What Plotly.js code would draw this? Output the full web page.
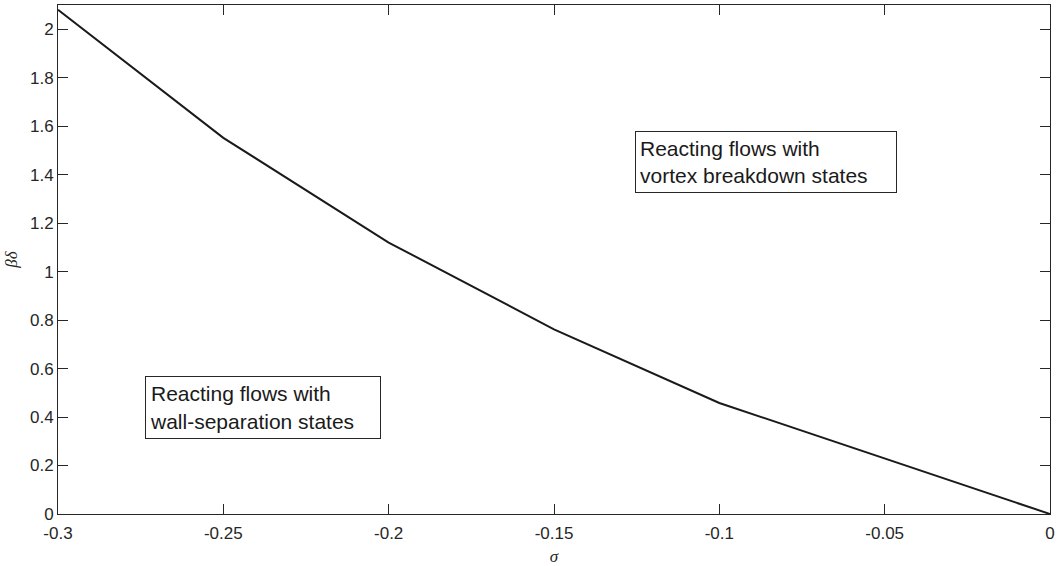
<!DOCTYPE html>
<html>
<head>
<meta charset="utf-8">
<script src="https://cdn.plot.ly/plotly-3.0.1.min.js"></script>
<style>html,body{margin:0;padding:0;background:#fff;}#chart{width:1060px;height:566px;}</style>
</head>
<body>
<div id="chart"></div>
<script>
const sigma = [-0.3, -0.25, -0.2, -0.15, -0.1, -0.05, 0];
const betaDelta = [2.08, 1.552, 1.12, 0.762, 0.458, 0.228, 0];
const xTicks = [-0.3, -0.25, -0.2, -0.15, -0.1, -0.05, 0];
const xTickLabels = ['-0.3', '-0.25', '-0.2', '-0.15', '-0.1', '-0.05', '0'];
const yTicks = [0, 0.2, 0.4, 0.6, 0.8, 1, 1.2, 1.4, 1.6, 1.8, 2];
const yTickLabels = ['0', '0.2', '0.4', '0.6', '0.8', '1', '1.2', '1.4', '1.6', '1.8', '2'];
const regionLabels = ['Reacting flows with<br>wall-separation states', 'Reacting flows with<br>vortex breakdown states'];

const axisColor = '#262626';
const tickFont = {family: 'Liberation Sans, Arial, sans-serif', size: 17, color: axisColor};

const trace = {
  x: sigma, y: betaDelta, type: 'scatter', mode: 'lines',
  line: {color: '#1a1a1a', width: 2}, hoverinfo: 'skip'
};

const axisCommon = {
  showgrid: false, zeroline: false, showline: true, mirror: 'ticks',
  linecolor: axisColor, linewidth: 1, ticks: 'inside', ticklen: 10,
  tickwidth: 1, tickcolor: axisColor, tickfont: tickFont, tickmode: 'array'
};

const layout = {
  width: 1060, height: 566,
  margin: {l: 58, r: 10, t: 5, b: 52},
  paper_bgcolor: '#fff', plot_bgcolor: '#fff',
  showlegend: false,
  xaxis: Object.assign({}, axisCommon, {
    range: [-0.3, 0], tickvals: xTicks, ticktext: xTickLabels, ticklabelstandoff: 4,
    title: {text: '<i>σ</i>', font: {family: 'Liberation Serif, Times New Roman, serif', size: 17, color: axisColor}, standoff: 10}
  }),
  yaxis: Object.assign({}, axisCommon, {
    range: [0, 2.1], tickvals: yTicks, ticktext: yTickLabels,
    title: {text: '<i>βδ</i>', font: {family: 'Liberation Serif, Times New Roman, serif', size: 17, color: axisColor}, standoff: 8}
  }),
  annotations: [
    {xref: 'x', yref: 'y', x: -0.2736, y: 0.5685, xanchor: 'left', yanchor: 'top',
     text: regionLabels[0], showarrow: false, align: 'left', width: 226, height: 53,
     bordercolor: axisColor, borderwidth: 1, borderpad: 4, bgcolor: '#fff',
     font: {family: 'Liberation Sans, Arial, sans-serif', size: 21, color: '#1a1a1a'}},
    {xref: 'x', yref: 'y', x: -0.1254, y: 1.582, xanchor: 'left', yanchor: 'top',
     text: regionLabels[1], showarrow: false, align: 'left', width: 252, height: 52,
     bordercolor: axisColor, borderwidth: 1, borderpad: 4, bgcolor: '#fff',
     font: {family: 'Liberation Sans, Arial, sans-serif', size: 21, color: '#1a1a1a'}}
  ]
};

Plotly.newPlot('chart', [trace], layout, {staticPlot: true, displayModeBar: false});
</script>
</body>
</html>
